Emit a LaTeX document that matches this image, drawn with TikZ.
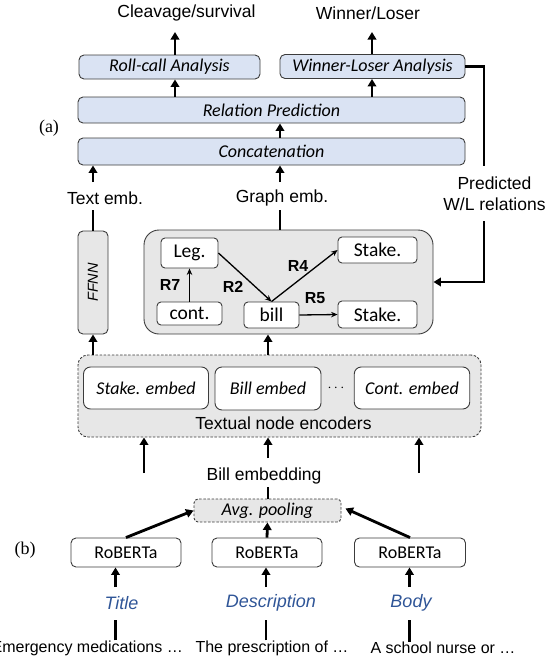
\documentclass[tikz,border=0pt]{standalone}
\usepackage{fontspec}
\usetikzlibrary{arrows.meta,calc}
\newfontfamily\arialf{Liberation Sans}
\newfontfamily\calf{Carlito}
\newfontfamily\timesf{Liberation Serif}
\definecolor{boxblue}{HTML}{DAE3F3}
\definecolor{boxgray}{HTML}{E7E7E7}
\definecolor{edge}{HTML}{3C3C3C}
\definecolor{fieldblue}{HTML}{2F5597}

\tikzset{
  lbl/.style={font=\arialf\fontsize{17.5}{21}\selectfont, inner sep=0pt, align=center},
  small/.style={font=\arialf\fontsize{16}{19}\selectfont, inner sep=0pt},
  rlbl/.style={font=\arialf\bfseries\fontsize{16}{18}\selectfont, inner sep=0pt},
  field/.style={font=\arialf\itshape\fontsize{18}{20}\selectfont, text=fieldblue, inner sep=0pt},
  tag/.style={font=\timesf\fontsize{18}{20}\selectfont, inner sep=0pt},
  stage/.style={draw=edge, line width=0.9pt, fill=boxblue, rounded corners=5pt,
    inner sep=0pt, font=\calf\itshape\fontsize{18}{20}\selectfont},
  graybox/.style={draw=edge, line width=0.9pt, fill=boxgray, inner sep=0pt},
  gnode/.style={draw=edge, line width=0.9pt, fill=white, rounded corners=4pt,
    inner sep=0pt, font=\calf\fontsize{19.5}{21}\selectfont},
  embbox/.style={draw=edge, line width=0.9pt, fill=white, rounded corners=7pt,
    inner sep=0pt, font=\calf\itshape\fontsize{18}{20}\selectfont},
  encbox/.style={draw=edge, line width=0.9pt, fill=white, rounded corners=5pt,
    inner sep=0pt, font=\calf\fontsize{18}{20}\selectfont},
  dashbox/.style={draw=edge, line width=0.9pt, fill=boxgray, dash pattern=on 2.5pt off 1.6pt},
  bigline/.style={line width=2.8pt},
  bigarrow/.style={line width=2.8pt, -{Triangle[length=7.5pt,width=8.5pt]}},
  thinarrow/.style={line width=1.3pt, -{Stealth[length=6.5pt,width=5.5pt]}},
}

\begin{document}
\begin{tikzpicture}[x=1pt,y=-1pt]
\useasboundingbox (0,0) rectangle (552,659);

% ---------- (a) prediction stack ----------
\node[lbl] (cleav) at (186.5,13) {Cleavage/survival};
\node[lbl] (winlos) at (368,13) {Winner/Loser};

\node[stage, minimum width=181pt, minimum height=24pt] (roll) at (169.5,67) {Roll-call Analysis};
\node[stage, minimum width=185pt, minimum height=24pt] (wl) at (372.5,66.5) {Winner-Loser Analysis};
\node[stage, minimum width=387pt, minimum height=26pt] (rel) at (271.5,110) {Relation Prediction};
\node[stage, minimum width=387pt, minimum height=27pt] (concat) at (271.5,151.5) {Concatenation};

\node[tag] (taga) at (49,128) {(a)};

\coordinate (tipA) at (175,32);
\coordinate (tipB) at (372,32);
\draw[bigarrow] (roll.north -| tipA) -- (tipA);
\draw[bigarrow] (wl.north -| tipB) -- (tipB);
\draw[bigarrow] (rel.north -| tipA) -- (roll.south -| tipA);
\draw[bigarrow] (rel.north -| tipB) -- (wl.south -| tipB);

\coordinate (colT) at (93,182);
\coordinate (colG) at (280,182);
\draw[bigarrow] (colT) -- (concat.south -| colT);
\draw[bigarrow] (colG) -- (concat.south -| colG);
\draw[bigarrow] (concat.north -| colG) -- (rel.south -| colG);

\node[lbl] (textemb) at (105,198) {Text emb.};
\node[lbl] (graphemb) at (282,198) {Graph emb.};
\node[lbl] (pred) at (494.5,193.5) {Predicted\\W/L relations};

% ---------- FFNN and heterogeneous graph ----------
\node[graybox, rounded corners=5pt, minimum width=30pt, minimum height=103pt] (ffnn) at (93,282.5) {};
\node[font=\arialf\itshape\fontsize{14.5}{16}\selectfont, rotate=90, inner sep=0pt] (ffnnlbl) at (ffnn.center) {FFNN};
\node[graybox, rounded corners=15pt, minimum width=289pt, minimum height=104pt] (graph) at (288.5,282) {};

\coordinate (tT) at (93,210);
\coordinate (tG) at (280,210);
\draw[bigline] (tT) -- (ffnn.north -| tT);
\draw[bigline] (tG) -- (graph.north -| tG);

\coordinate (fbA) at (484,166);
\coordinate (fbB) at (484,221);
\draw[bigline] (wl.east) -| (fbA);
\draw[bigarrow] (fbB) |- (graph.east);

\node[gnode, minimum width=57pt, minimum height=30pt] (leg) at (189.5,253) {Leg.};
\node[gnode, minimum width=65pt, minimum height=23pt] (cont) at (189.5,313.5) {cont.};
\node[gnode, minimum width=55pt, minimum height=26pt] (bill) at (271.5,315) {bill};
\node[gnode, minimum width=79pt, minimum height=26pt] (stake1) at (377.5,250) {Stake.};
\node[gnode, minimum width=79pt, minimum height=27pt] (stake2) at (377.5,314.5) {Stake.};

\draw[thinarrow] (cont.north) -- (leg.south);
\draw[thinarrow] (leg.east) -- (bill.north);
\draw[thinarrow] (bill.north) -- (stake1.west);
\draw[thinarrow] (bill.east) -- (stake2.west);

\node[rlbl] (r7) at (170,285) {R7};
\node[rlbl] (r2) at (233,287) {R2};
\node[rlbl] (r4) at (298,266) {R4};
\node[rlbl] (r5) at (315,298) {R5};

% ---------- textual node encoders ----------
\node[dashbox, rounded corners=10pt, minimum width=403pt, minimum height=82pt] (enc) at (279.5,396) {};
\node[embbox, minimum width=125pt, minimum height=42pt] (se) at (146,388) {Stake. embed};
\node[embbox, minimum width=106pt, minimum height=43pt] (be) at (268,388.5) {Bill embed};
\node[embbox, minimum width=115.5pt, minimum height=42pt] (ce) at (412,388) {Cont. embed};
\node[inner sep=0pt, font=\fontsize{14}{16}\selectfont] (dots) at (336,388) {$\cdots$};
\node[lbl] (enclbl) at (283.5,423) {Textual node encoders};

\draw[bigarrow] (enc.north -| ffnn) -- (ffnn.south);
\draw[bigarrow] (enc.north -| be) -- (graph.south -| be);

% ---------- (b) bill embedding ----------
\coordinate (inL) at (144,473);
\coordinate (inR) at (419,473);
\coordinate (inM) at (268,458);
\draw[bigarrow] (inL) -- (enc.south -| inL);
\draw[bigarrow] (inR) -- (enc.south -| inR);
\draw[bigarrow] (inM) -- (enc.south -| inM);

\node[lbl] (billemb) at (264,476) {Bill embedding};
\node[dashbox, rounded corners=4pt, minimum width=147pt, minimum height=23pt, inner sep=0pt,
  font=\calf\itshape\fontsize{18}{20}\selectfont] (avg) at (267.5,510.5) {Avg. pooling};
\coordinate (bm) at (268,487);
\draw[bigline] (bm) -- (avg.north -| bm);

\node[encbox, minimum width=110pt, minimum height=29pt] (rob1) at (126,552.5) {RoBERTa};
\node[encbox, minimum width=110pt, minimum height=29pt] (rob2) at (267,552.5) {RoBERTa};
\node[encbox, minimum width=111pt, minimum height=29pt] (rob3) at (410,552.5) {RoBERTa};
\node[tag] (tagb) at (25,550) {(b)};

\draw[bigarrow] (rob1.north) -- (avg.west);
\draw[bigarrow] (rob2.north) -- (avg.south);
\draw[bigarrow] (rob3.north) -- ($(avg.east)+(4,-2)$);

\node[field] (title) at (121.5,603) {Title};
\node[field] (desc) at (271,603) {Description};
\node[field] (body) at (411,603) {Body};

\coordinate (fa1) at (115.5,587);
\coordinate (fa2) at (266,587);
\coordinate (fa3) at (409.5,587);
\draw[bigarrow] (fa1) -- (rob1.south -| fa1);
\draw[bigarrow] (fa2) -- (rob2.south -| fa2);
\draw[bigarrow] (fa3) -- (rob3.south -| fa3);

\node[small, anchor=east] (txt1) at (183,648) {Emergency medications …};
\node[small] (txt2) at (272,648) {The prescription of …};
\node[small] (txt3) at (443,648) {A school nurse or …};

\coordinate (fl1) at (115.5,620);
\coordinate (fl2) at (266,620);
\coordinate (fl3) at (409.5,620);
\draw[bigline] (txt1.north -| fl1) -- (fl1);
\draw[bigline] (txt2.north -| fl2) -- (fl2);
\draw[bigline] (txt3.north -| fl3) -- (fl3);
\end{tikzpicture}
\end{document}
